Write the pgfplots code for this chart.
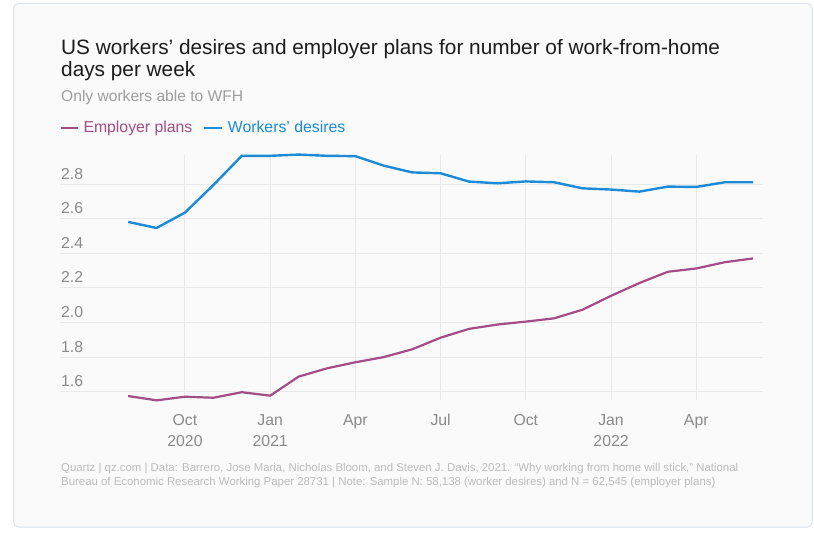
\documentclass[border=0pt]{standalone}
\usepackage{pgfplots}
\pgfplotsset{compat=1.18}
\usepackage{fontspec}
\setmainfont{Liberation Sans}[Ligatures=ResetAll]
\definecolor{emp}{RGB}{163,77,134}
\definecolor{wrk}{RGB}{28,138,214}
\definecolor{gridc}{RGB}{233,233,233}
\definecolor{cardfill}{RGB}{250,250,250}
\definecolor{cardborder}{RGB}{220,227,238}
\definecolor{titlec}{RGB}{28,28,28}
\definecolor{subc}{RGB}{158,158,158}
\definecolor{tickc}{RGB}{138,138,138}
\definecolor{footc}{RGB}{188,188,188}

\pgfplotstableread{
m v
-2 1.575
-1 1.550
0 1.571
1 1.565
2 1.597
3 1.577
4 1.687
5 1.735
6 1.770
7 1.800
8 1.845
9 1.912
10 1.963
11 1.988
12 2.005
13 2.024
14 2.074
15 2.154
16 2.228
17 2.293
18 2.312
19 2.348
20 2.370
}\emptable

\pgfplotstableread{
m v
-2 2.581
-1 2.546
0 2.635
1 2.794
2 2.963
3 2.963
4 2.970
5 2.963
6 2.961
7 2.906
8 2.867
9 2.862
10 2.814
11 2.804
12 2.815
13 2.810
14 2.775
15 2.768
16 2.756
17 2.785
18 2.783
19 2.810
20 2.810
}\wrktable

\begin{document}
\begin{tikzpicture}[x=1pt,y=1pt]
\fill[white] (0,0) rectangle (814,534);
\filldraw[fill=cardfill, draw=cardborder, line width=1pt, rounded corners=5pt] (13.5,530.5) rectangle (812,6.8);
\node[anchor=base west, inner sep=0pt, font=\fontsize{20.8}{25}\selectfont, text=titlec] at (61,479) {US workers' desires and employer plans for number of work-from-home};
\node[anchor=base west, inner sep=0pt, font=\fontsize{20.8}{25}\selectfont, text=titlec] at (61,457) {days per week};
\node[anchor=base west, inner sep=0pt, font=\fontsize{15.6}{18}\selectfont, text=subc] at (61,432.3) {Only workers able to WFH};
\draw[emp, line width=2.2pt] (61,406.3) -- (77.5,406.3);
\node[anchor=base west, inner sep=0pt, font=\fontsize{15.8}{18}\selectfont, text=emp] at (83.3,401.3) {Employer plans};
\draw[wrk, line width=2.2pt] (204,406.3) -- (221.7,406.3);
\node[anchor=base west, inner sep=0pt, font=\fontsize{15.8}{18}\selectfont, text=wrk] at (227.7,401.3) {Workers' desires};
\node[anchor=base west, inner sep=0pt, font=\fontsize{11.4}{13}\selectfont, text=footc] at (61,62.3) {Quartz | qz.com | Data: Barrero, Jose Maria, Nicholas Bloom, and Steven J. Davis, 2021. “Why working from home will stick,” National};
\node[anchor=base west, inner sep=0pt, font=\fontsize{11.4}{13}\selectfont, text=footc] at (61,48.3) {Bureau of Economic Research Working Paper 28731 | Note: Sample N: 58,138 (worker desires) and N = 62,545 (employer plans)};
\begin{axis}[
  at={(60pt,133.65pt)}, anchor=south west,
  scale only axis, width=703pt, height=245.75pt,
  xmin=-4.4, xmax=20.35, ymin=1.55, ymax=2.97,
  clip=false,
  axis line style={draw=none},
  tick style={draw=none},
  major tick length=0pt,
  grid=major,
  major grid style={draw=gridc, line width=1pt},
  xtick={0,3,6,9,12,15,18},
  xticklabels={Oct,Jan,Apr,Jul,Oct,Jan,Apr},
  extra x ticks={0,3,15},
  extra x tick labels={\raisebox{-21.7pt}{2020},\raisebox{-21.7pt}{2021},\raisebox{-21.7pt}{2022}},
  extra x tick style={grid=none},
  xticklabel style={anchor=base, yshift=-24.7pt, inner sep=0pt, font=\fontsize{15.8}{18}\selectfont, text=tickc},
  ytick={1.6,1.8,2.0,2.2,2.4,2.6,2.8},
  yticklabels={1.6,1.8,2.0,2.2,2.4,2.6,2.8},
  yticklabel style={anchor=base west, xshift=1pt, yshift=5pt, inner sep=0pt, font=\fontsize{15.8}{18}\selectfont, text=tickc},
]
\addplot[emp, line width=2.2pt, line join=round, mark=none] table[x=m, y=v] {\emptable};
\addplot[wrk, line width=2.4pt, line join=round, mark=none] table[x=m, y=v] {\wrktable};
\end{axis}
\end{tikzpicture}
\end{document}
